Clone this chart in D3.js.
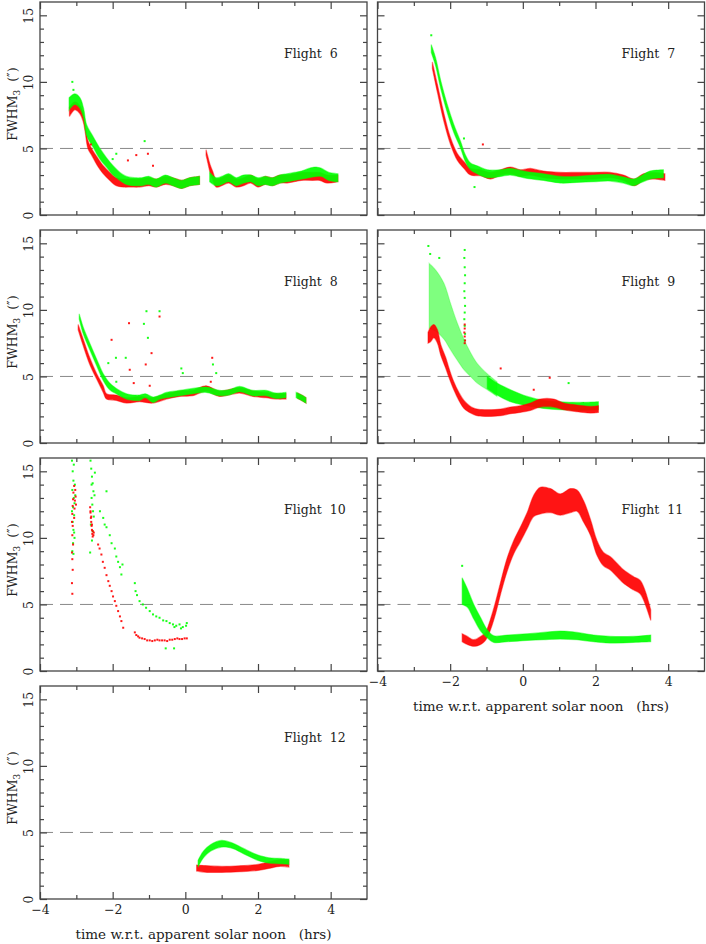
<!DOCTYPE html>
<html>
<head>
<meta charset="utf-8">
<script src="https://cdn.jsdelivr.net/npm/d3@7"></script>
<style>
body { margin: 0; background: #fff; }
svg { display: block; font-family: "DejaVu Serif", serif; }
</style>
</head>
<body>
<svg id="chart" width="706" height="944"></svg>
<script>
// ---- data: bands are [t, low, high], points are [t, fwhm] ----
const flightNames = ['Flight  6', 'Flight  7', 'Flight  8', 'Flight  9', 'Flight  10', 'Flight  11', 'Flight  12'];
const xMajor = [-4, -2, 0, 2, 4];
const xMinor = [-3, -1, 1, 3];
const yMajor = [0, 5, 10, 15];
const yMinor = [1, 2, 3, 4, 6, 7, 8, 9, 11, 12, 13, 14];
const refLine = 5;

const f6RedA = [[-3.19, 7.4, 8.1], [-3.04, 7.9, 8.5], [-2.9, 7.6, 8.2], [-2.81, 7.0, 7.6], [-2.76, 6.3, 6.9], [-2.68, 5.0, 5.6],
  [-2.58, 4.5, 5.0], [-2.44, 3.8, 4.4], [-2.26, 3.1, 3.7], [-2.08, 2.6, 3.2], [-1.90, 2.2, 2.8], [-1.71, 2.1, 2.7],
  [-1.5, 2.1, 2.7], [-1.26, 2.1, 2.7], [-1.0, 2.2, 2.8], [-0.8, 2.1, 2.7], [-0.55, 2.3, 2.9], [-0.34, 2.2, 2.8],
  [-0.1, 2.0, 2.6], [0.12, 2.2, 2.8], [0.39, 2.3, 2.9]];
const f6RedB = [[0.57, 4.5, 4.9], [0.62, 3.9, 4.4], [0.68, 3.2, 3.8], [0.75, 2.7, 3.3], [0.85, 2.1, 2.7], [1.0, 2.2, 2.8],
  [1.2, 2.4, 3.0], [1.4, 2.1, 2.7], [1.6, 2.2, 2.8], [1.8, 2.4, 3.0], [2.0, 2.1, 2.7], [2.2, 2.3, 2.9], [2.4, 2.2, 2.8],
  [2.6, 2.4, 3.0], [2.8, 2.4, 3.0], [3.0, 2.5, 3.1], [3.2, 2.6, 3.2], [3.5, 2.6, 3.2], [3.7, 2.6, 3.2], [3.9, 2.4, 3.0], [4.2, 2.5, 3.0]];
const f6GreenA = [[-3.2, 7.9, 8.8], [-3.04, 8.3, 9.1], [-2.9, 8.0, 8.8], [-2.8, 7.3, 8.0], [-2.72, 6.0, 6.8], [-2.54, 5.1, 5.9],
  [-2.35, 4.2, 5.0], [-2.17, 3.6, 4.3], [-1.99, 3.0, 3.7], [-1.8, 2.6, 3.2], [-1.62, 2.3, 2.9], [-1.4, 2.2, 2.8],
  [-1.2, 2.2, 2.8], [-1.0, 2.3, 2.9], [-0.8, 2.1, 2.7], [-0.55, 2.4, 3.0], [-0.34, 2.2, 2.8], [-0.1, 2.0, 2.6],
  [0.12, 2.2, 2.8], [0.39, 2.3, 2.9]];
const f6GreenB = [[0.67, 2.5, 3.2], [0.85, 2.2, 2.8], [1.0, 2.3, 2.9], [1.2, 2.5, 3.1], [1.4, 2.2, 2.8], [1.6, 2.4, 3.0],
  [1.8, 2.5, 3.0], [2.0, 2.2, 2.8], [2.2, 2.3, 2.9], [2.4, 2.2, 2.8], [2.6, 2.4, 3.0], [2.8, 2.5, 3.1], [3.0, 2.6, 3.2],
  [3.2, 2.7, 3.3], [3.4, 2.8, 3.5], [3.6, 2.9, 3.6], [3.75, 2.9, 3.5], [3.95, 2.6, 3.2], [4.2, 2.5, 3.1]];
const f6RedPts = [[-1.35, 4.5], [-1.58, 4.1], [-1.03, 4.6], [-0.89, 3.7], [-2.6, 5.3]];
const f6GreenPts = [[-3.11, 10.0], [-3.08, 9.4], [-1.12, 5.55], [-1.9, 4.6], [-2.0, 4.2]];

const f7Red = [[-2.49, 11.0, 11.5], [-2.35, 9.2, 9.8], [-2.17, 7.0, 7.6], [-1.99, 5.3, 5.8], [-1.80, 4.1, 4.6], [-1.62, 3.5, 4.0],
  [-1.44, 3.0, 3.5], [-1.17, 2.95, 3.4], [-0.89, 2.7, 3.2], [-0.61, 3.0, 3.4], [-0.34, 3.1, 3.6], [-0.07, 2.9, 3.4],
  [0.21, 3.0, 3.5], [0.57, 2.8, 3.3], [1.03, 2.7, 3.2], [1.49, 2.7, 3.2], [1.95, 2.7, 3.2], [2.40, 2.8, 3.2],
  [2.77, 2.6, 3.0], [3.07, 2.2, 2.7], [3.32, 2.6, 3.1], [3.6, 2.7, 3.2], [3.91, 2.6, 3.1]];
const f7Green = [[-2.52, 12.2, 12.8], [-2.40, 11.2, 11.8], [-2.26, 9.5, 10.1], [-2.08, 7.7, 8.3], [-1.90, 6.2, 6.8],
  [-1.71, 5.0, 5.5], [-1.58, 4.0, 4.5], [-1.44, 3.4, 3.9], [-1.26, 3.1, 3.7], [-0.98, 2.8, 3.4], [-0.61, 2.9, 3.4],
  [-0.34, 3.0, 3.5], [0.12, 2.75, 3.25], [0.57, 2.6, 3.1], [1.03, 2.4, 2.9], [1.49, 2.45, 2.9], [1.95, 2.5, 3.0],
  [2.40, 2.55, 3.05], [2.77, 2.4, 2.85], [3.04, 2.2, 2.7], [3.23, 2.4, 2.9], [3.50, 2.7, 3.3], [3.87, 2.8, 3.4]];
const f7RedPts = [[-1.1, 5.3]];
const f7GreenPts = [[-2.52, 13.5], [-1.62, 5.75], [-1.33, 2.1]];

const f8RedA = [[-2.95, 8.5, 8.9], [-2.81, 7.3, 7.8], [-2.63, 5.9, 6.4], [-2.44, 4.8, 5.2], [-2.26, 3.8, 4.3], [-2.17, 3.3, 3.7],
  [-1.90, 3.2, 3.6], [-1.62, 3.0, 3.4], [-1.26, 3.1, 3.5], [-0.89, 3.0, 3.4], [-0.52, 3.3, 3.7], [-0.16, 3.5, 3.9],
  [0.21, 3.55, 3.95], [0.57, 3.9, 4.3], [0.94, 3.5, 3.9], [1.49, 3.75, 4.15], [1.86, 3.5, 3.9], [2.22, 3.4, 3.8],
  [2.50, 3.3, 3.7], [2.77, 3.3, 3.7]];
const f8RedB = [[3.09, 3.35, 3.75], [3.2, 3.2, 3.6], [3.32, 3.0, 3.4]];
const f8GreenA = [[-2.92, 9.3, 9.7], [-2.81, 8.2, 8.7], [-2.63, 7.0, 7.5], [-2.44, 5.8, 6.3], [-2.26, 4.7, 5.2], [-2.08, 4.0, 4.5],
  [-1.90, 3.7, 4.1], [-1.62, 3.3, 3.7], [-1.4, 3.2, 3.6], [-1.26, 3.2, 3.6], [-1.1, 3.4, 3.7], [-0.89, 3.05, 3.45],
  [-0.7, 3.3, 3.6], [-0.52, 3.4, 3.8], [-0.16, 3.55, 3.95], [0.21, 3.7, 4.1], [0.57, 3.8, 4.2], [0.94, 3.55, 3.95],
  [1.2, 3.6, 4.0], [1.49, 3.85, 4.25], [1.86, 3.55, 3.95], [2.22, 3.55, 3.95], [2.50, 3.35, 3.75], [2.77, 3.4, 3.8]];
const f8GreenB = [[3.05, 3.4, 3.8], [3.2, 3.2, 3.6], [3.32, 3.0, 3.4]];
const f8RedPts = [[-2.03, 7.75], [-1.55, 9.0], [-0.71, 9.5], [-1.09, 5.9], [-0.93, 6.75], [0.74, 6.4], [-1.42, 4.5],
  [-0.98, 4.3], [-1.53, 5.5], [0.7, 4.6]];
const f8GreenPts = [[-1.91, 6.4], [-1.64, 6.4], [-1.14, 8.95], [-1.07, 9.9], [-0.71, 9.9], [-1.03, 7.9], [-0.11, 5.6],
  [-0.07, 5.25], [0.76, 5.9], [0.85, 5.25], [-2.12, 6.0], [-1.9, 4.6]];

const f9GreenWide = [[-2.58, 8.6, 13.5], [-2.40, 8.4, 13.0], [-2.17, 7.8, 12.0], [-1.99, 7.0, 10.5], [-1.80, 6.2, 9.0],
  [-1.62, 5.5, 7.8], [-1.44, 5.0, 6.8], [-1.26, 4.5, 6.0], [-0.98, 4.0, 5.2], [-0.71, 3.5, 4.6]];
const f9Green = [[-0.98, 4.1, 5.0], [-0.71, 3.6, 4.5], [-0.34, 3.1, 4.0], [0.12, 2.8, 3.5], [0.57, 2.6, 3.2], [1.03, 2.5, 3.1],
  [1.49, 2.45, 3.05], [2.08, 2.5, 3.1]];
const f9Red = [[-2.61, 7.5, 8.3], [-2.54, 7.6, 8.7], [-2.45, 7.9, 8.9], [-2.35, 7.5, 8.5], [-2.26, 6.6, 7.4], [-2.12, 5.6, 6.4],
  [-2.03, 4.9, 5.6], [-1.90, 4.0, 4.6], [-1.76, 3.2, 3.8], [-1.62, 2.6, 3.2], [-1.44, 2.25, 2.75], [-1.26, 2.05, 2.55],
  [-0.98, 2.0, 2.5], [-0.61, 2.05, 2.55], [-0.34, 2.2, 2.7], [-0.07, 2.3, 2.8], [0.21, 2.45, 3.0], [0.48, 2.7, 3.3],
  [0.85, 2.7, 3.3], [1.12, 2.5, 3.0], [1.49, 2.35, 2.85], [1.86, 2.25, 2.75], [2.08, 2.3, 2.8]];
const f9GreenPts = [[-2.6, 14.8], [-2.55, 14.2], [-2.3, 13.9], [-1.60, 14.5], [-1.61, 13.9], [-1.60, 13.2], [-1.59, 12.6],
  [-1.60, 12.0], [-1.61, 11.4], [-1.60, 10.9], [-1.59, 10.3], [-1.60, 9.8], [-1.61, 9.3], [-1.60, 8.8], [-1.59, 8.2],
  [-1.60, 7.7], [1.26, 4.5]];
const f9RedPts = [[-1.60, 8.9], [-1.60, 8.6], [-1.61, 8.3], [-1.60, 8.0], [-1.59, 7.7], [-1.60, 7.5], [-0.61, 5.6],
  [0.74, 4.9], [0.30, 4.0]];

const f10Red = [[-3.12, 11.2], [-3.11, 11.8], [-3.10, 12.4], [-3.09, 12.9], [-3.08, 13.4], [-3.06, 11.5], [-3.05, 12.2],
  [-3.04, 12.8], [-3.03, 13.6], [-3.02, 13.1], [-3.01, 12.5], [-3.06, 13.9], [-3.10, 10.9], [-3.11, 10.2], [-3.11, 8.4],
  [-3.12, 8.9], [-3.10, 7.6], [-3.12, 6.6], [-3.11, 5.8], [-3.09, 9.5],
  [-2.62, 12.3], [-2.61, 11.9], [-2.60, 11.5], [-2.59, 11.2], [-2.58, 10.9], [-2.57, 10.6], [-2.56, 10.3], [-2.55, 10.1],
  [-2.61, 12.0], [-2.59, 11.6], [-2.57, 11.0], [-2.55, 10.5], [-2.53, 10.2], [-2.52, 10.4],
  [-2.40, 9.5], [-2.36, 9.2], [-2.31, 8.75], [-2.27, 8.2], [-2.22, 7.75], [-2.17, 7.2], [-2.12, 6.75], [-2.08, 6.4],
  [-2.03, 6.0], [-1.99, 5.6], [-1.94, 5.25], [-1.90, 4.9], [-1.85, 4.5], [-1.80, 4.1], [-1.76, 3.75], [-1.71, 3.25],
  [-1.39, 2.9], [-1.35, 2.7], [-1.30, 2.6], [-1.26, 2.5], [-1.19, 2.45], [-1.12, 2.4], [-1.05, 2.3], [-0.98, 2.3],
  [-0.91, 2.25], [-0.84, 2.3], [-0.77, 2.35], [-0.71, 2.3], [-0.64, 2.3], [-0.57, 2.3], [-0.5, 2.25], [-0.43, 2.35],
  [-0.36, 2.35], [-0.29, 2.4], [-0.22, 2.45], [-0.16, 2.4], [-0.09, 2.4], [-0.02, 2.45], [0.04, 2.45]];
const f10Green = [[-3.12, 15.8], [-3.10, 15.0], [-3.08, 14.3], [-3.11, 13.6], [-3.07, 13.0], [-3.09, 12.3], [-3.06, 11.7],
  [-3.10, 11.2], [-3.08, 10.6], [-3.05, 10.0], [-3.09, 9.6], [-3.11, 9.0], [-3.07, 15.5], [-3.04, 14.0], [-3.05, 12.6],
  [-3.12, 12.0], [-3.06, 10.4], [-3.08, 8.8], [-3.03, 13.2],
  [-2.61, 15.8], [-2.59, 15.2], [-2.57, 14.6], [-2.55, 14.1], [-2.53, 13.5], [-2.58, 13.0], [-2.56, 12.5], [-2.54, 12.0],
  [-2.52, 11.6], [-2.60, 11.0], [-2.55, 10.5], [-2.57, 9.8], [-2.62, 8.9], [-2.50, 13.2], [-2.49, 14.9], [-2.58, 14.0],
  [-2.35, 12.0], [-2.26, 11.5], [-2.22, 11.0], [-2.17, 13.5], [-2.17, 10.8], [-2.08, 10.2], [-2.03, 9.6], [-1.94, 9.2],
  [-1.90, 8.6], [-1.85, 8.2], [-1.80, 7.8], [-1.76, 7.25], [-1.73, 8.0], [-1.39, 6.6], [-1.37, 6.0], [-1.33, 5.7],
  [-1.26, 5.25], [-1.17, 5.0], [-1.08, 4.75], [-0.98, 4.5], [-0.89, 4.25], [-0.80, 4.1], [-0.71, 4.0], [-0.61, 3.8],
  [-0.52, 3.75], [-0.43, 3.6], [-0.34, 3.5], [-0.3, 3.3], [-0.25, 3.4], [-0.16, 3.5], [-0.12, 3.2], [-0.07, 3.3],
  [0.02, 3.4], [0.04, 3.6], [-0.54, 1.7], [-0.31, 1.7]];

const f11Red = [[-1.67, 2.2, 2.8], [-1.53, 2.0, 2.6], [-1.35, 1.85, 2.35], [-1.16, 2.0, 2.6], [-1.03, 2.3, 2.9], [-0.89, 3.1, 3.9],
  [-0.75, 4.3, 5.2], [-0.61, 5.8, 6.7], [-0.43, 7.5, 8.5], [-0.25, 8.8, 9.8], [-0.07, 9.7, 10.8], [0.12, 10.7, 11.9],
  [0.30, 11.6, 13.2], [0.48, 11.8, 13.8], [0.76, 11.9, 13.7], [1.03, 11.7, 13.3], [1.31, 11.9, 13.7], [1.49, 12.0, 13.6],
  [1.67, 11.2, 12.8], [1.86, 10.2, 11.4], [2.04, 8.7, 9.8], [2.22, 7.9, 8.9], [2.40, 7.6, 8.6], [2.59, 7.1, 8.1],
  [2.77, 6.6, 7.6], [3.04, 6.1, 7.1], [3.23, 5.8, 6.8], [3.37, 5.0, 6.0], [3.46, 4.3, 5.2], [3.52, 3.8, 4.6]];
const f11Green = [[-1.67, 5.0, 7.0], [-1.53, 4.8, 6.2], [-1.35, 3.9, 5.0], [-1.16, 3.0, 4.0], [-0.98, 2.5, 3.1],
  [-0.80, 2.15, 2.65], [-0.43, 2.2, 2.7], [0.12, 2.3, 2.8], [0.57, 2.35, 2.9], [1.03, 2.4, 3.0], [1.49, 2.35, 2.9],
  [1.95, 2.2, 2.7], [2.40, 2.1, 2.6], [3.04, 2.15, 2.6], [3.52, 2.2, 2.7]];
const f11GreenPts = [[-1.67, 7.9]];

const f12Red = [[0.31, 2.1, 2.55], [0.6, 2.0, 2.5], [1.0, 2.0, 2.45], [1.5, 2.05, 2.5], [2.0, 2.15, 2.6], [2.3, 2.3, 2.8],
  [2.6, 2.45, 2.95], [2.85, 2.4, 2.9]];
const f12Green = [[0.35, 2.4, 2.9], [0.5, 3.1, 3.6], [0.7, 3.6, 4.1], [1.0, 3.9, 4.4], [1.3, 3.8, 4.2], [1.6, 3.4, 3.8],
  [2.0, 2.9, 3.3], [2.3, 2.7, 3.1], [2.6, 2.65, 3.05], [2.85, 2.6, 3.0]];

// ---- layout ----
const svg = d3.select('#chart');
const panelW = 327;
const panelH = 213;
const colX = [40, 377.5];
const rowY = [2, 230, 458, 686];
const RED = '#ff0000';
const GREEN = '#00ff00';
const AXIS = '#444';

const panels = [
  {name: flightNames[0], col: 0, row: 0, yLab: true,
   layers: [[f6RedA, RED], [f6RedB, RED], [f6GreenA, GREEN], [f6GreenB, GREEN]], pts: [[f6RedPts, RED], [f6GreenPts, GREEN]]},
  {name: flightNames[1], col: 1, row: 0,
   layers: [[f7Red, RED], [f7Green, GREEN]], pts: [[f7RedPts, RED], [f7GreenPts, GREEN]]},
  {name: flightNames[2], col: 0, row: 1, yLab: true,
   layers: [[f8RedA, RED], [f8RedB, RED], [f8GreenA, GREEN], [f8GreenB, GREEN]], pts: [[f8RedPts, RED], [f8GreenPts, GREEN]]},
  {name: flightNames[3], col: 1, row: 1,
   layers: [[f9GreenWide, GREEN, 0.5], [f9Green, GREEN], [f9Red, RED]], pts: [[f9GreenPts, GREEN], [f9RedPts, RED]]},
  {name: flightNames[4], col: 0, row: 2, yLab: true,
   layers: [], pts: [[f10Green, GREEN], [f10Red, RED]]},
  {name: flightNames[5], col: 1, row: 2, xLab: true,
   layers: [[f11Red, RED], [f11Green, GREEN]], pts: [[f11GreenPts, GREEN]]},
  {name: flightNames[6], col: 0, row: 3, yLab: true, xLab: true,
   layers: [[f12Red, RED], [f12Green, GREEN]], pts: []}
];

const xScale = d3.scaleLinear().domain([-4, 5]).range([0, panelW]);
const yScale = d3.scaleLinear().domain([0, 16]).range([panelH, 0]);

const band = d3.area()
  .x(d => xScale(d[0]))
  .y0(d => yScale(d[1]))
  .y1(d => yScale(d[2]))
  .curve(d3.curveCatmullRom.alpha(0.5));

const defs = svg.append('defs');

panels.forEach((p, i) => {
  const g = svg.append('g')
    .attr('transform', `translate(${colX[p.col]}, ${rowY[p.row]})`);

  defs.append('clipPath').attr('id', `clip${i}`)
    .append('rect').attr('width', panelW).attr('height', panelH);

  const plot = g.append('g').attr('clip-path', `url(#clip${i})`);

  // reference line
  plot.append('line')
    .attr('x1', 0).attr('x2', panelW)
    .attr('y1', yScale(refLine)).attr('y2', yScale(refLine))
    .attr('stroke', '#888').attr('stroke-width', 1)
    .attr('stroke-dasharray', '13,7');

  p.layers.forEach(([data, color, op]) => {
    plot.append('path')
      .datum(data)
      .attr('d', band)
      .attr('fill', color)
      .attr('fill-opacity', op || 0.92)
      .attr('stroke', color)
      .attr('stroke-opacity', (op || 1) * 0.45)
      .attr('stroke-width', 1.2);
  });

  p.pts.forEach(([data, color]) => {
    plot.selectAll(null).data(data).enter()
      .append('rect')
      .attr('x', d => xScale(d[0]) - 1)
      .attr('y', d => yScale(d[1]) - 1)
      .attr('width', 2).attr('height', 2)
      .attr('fill', color)
      .attr('fill-opacity', 0.9);
  });

  // axes: inward ticks on all four sides
  const styleAxis = (sel) => {
    sel.select('.domain').remove();
    sel.selectAll('line').attr('stroke', AXIS).attr('stroke-width', 1.2);
  };

  g.append('g').attr('transform', `translate(0, ${panelH})`)
    .call(d3.axisBottom(xScale).tickValues(xMajor).tickSize(-7).tickPadding(6)
      .tickFormat(p.xLab ? d3.format('d') : ''))
    .call(styleAxis)
    .call(s => s.selectAll('text').attr('font-size', 12.5).attr('fill', '#222')
      .attr('font-family', '"DejaVu Serif", serif'));
  g.append('g').attr('transform', `translate(0, ${panelH})`)
    .call(d3.axisBottom(xScale).tickValues(xMinor).tickSize(-4).tickFormat(''))
    .call(styleAxis);
  g.append('g')
    .call(d3.axisTop(xScale).tickValues(xMajor).tickSize(-7).tickFormat(''))
    .call(styleAxis);
  g.append('g')
    .call(d3.axisTop(xScale).tickValues(xMinor).tickSize(-4).tickFormat(''))
    .call(styleAxis);

  g.append('g')
    .call(d3.axisLeft(yScale).tickValues(yMajor).tickSize(-7)
      .tickFormat(p.yLab ? d3.format('d') : ''))
    .call(styleAxis)
    .call(s => s.selectAll('text')
      .attr('x', 0).attr('y', -7).attr('dy', null)
      .attr('transform', 'rotate(-90)')
      .attr('text-anchor', 'middle')
      .attr('font-size', 12.5).attr('fill', '#222')
      .attr('font-family', '"DejaVu Serif", serif'));
  g.append('g')
    .call(d3.axisLeft(yScale).tickValues(yMinor).tickSize(-4).tickFormat(''))
    .call(styleAxis);
  g.append('g').attr('transform', `translate(${panelW}, 0)`)
    .call(d3.axisRight(yScale).tickValues(yMajor).tickSize(-7).tickFormat(''))
    .call(styleAxis);
  g.append('g').attr('transform', `translate(${panelW}, 0)`)
    .call(d3.axisRight(yScale).tickValues(yMinor).tickSize(-4).tickFormat(''))
    .call(styleAxis);

  g.append('rect')
    .attr('width', panelW).attr('height', panelH)
    .attr('fill', 'none').attr('stroke', AXIS).attr('stroke-width', 1.3);

  g.append('text')
    .attr('x', 244).attr('y', 56)
    .attr('font-size', 12.5).attr('fill', '#222')
    .text(p.name.replace(/ /g, '\u00a0'));

  if (p.yLab) {
    const t = g.append('text')
      .attr('transform', `translate(-23, 102) rotate(-90)`)
      .attr('text-anchor', 'middle')
      .attr('font-size', 12.5).attr('fill', '#222');
    t.append('tspan').text('FWHM');
    t.append('tspan').attr('dy', 3).attr('font-size', 9).text('3');
    t.append('tspan').attr('dy', -3).text('\u00a0\u00a0(\u2033)');
  }

  if (p.xLab) {
    g.append('text')
      .attr('x', panelW / 2).attr('y', panelH + 40)
      .attr('text-anchor', 'middle')
      .attr('font-size', 13.5).attr('fill', '#222')
      .text('time w.r.t. apparent solar noon\u00a0\u00a0 (hrs)');
  }
});
</script>
</body>
</html>
